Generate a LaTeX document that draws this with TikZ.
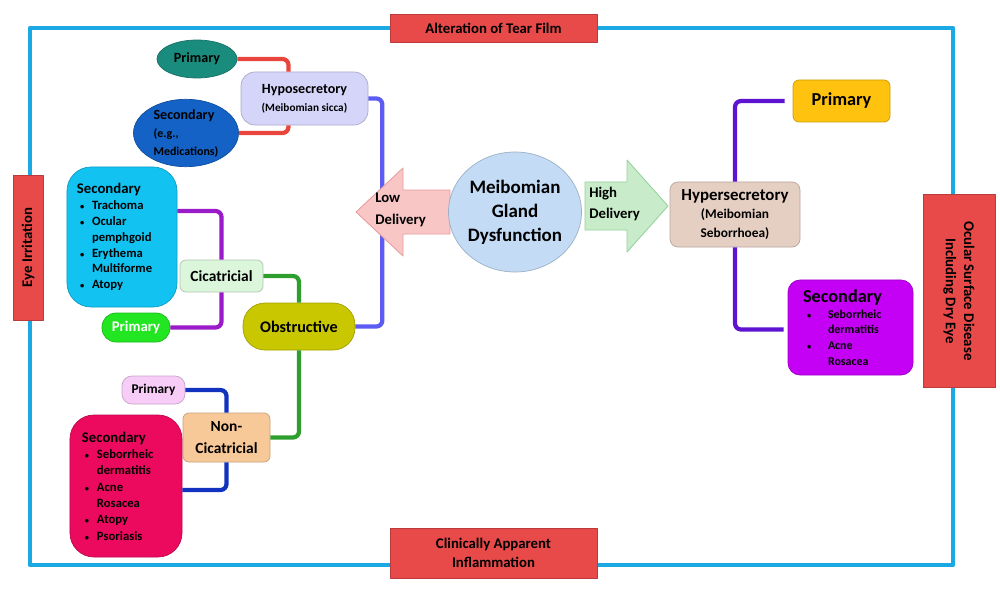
\documentclass[tikz,border=0pt]{standalone}
\usepackage{fontspec}
\setmainfont{Carlito}
\usetikzlibrary{shapes.geometric}
\definecolor{frameblue}{HTML}{1AA9E2}
\definecolor{labelred}{HTML}{E84A4A}
\definecolor{teal1}{HTML}{1A8C7E}
\definecolor{blue1}{HTML}{1462C6}
\definecolor{lav}{HTML}{D5D5FA}
\definecolor{cyan1}{HTML}{12C3F2}
\definecolor{mint}{HTML}{DCF6DC}
\definecolor{lime1}{HTML}{22E622}
\definecolor{olive1}{HTML}{C9C700}
\definecolor{pink1}{HTML}{F7CDF7}
\definecolor{peach}{HTML}{F8C998}
\definecolor{magenta1}{HTML}{EC0A5E}
\definecolor{skyc}{HTML}{C3DBF5}
\definecolor{lowpink}{HTML}{F9C6C6}
\definecolor{lowedge}{HTML}{E59C9C}
\definecolor{highgreen}{HTML}{C8EBCA}
\definecolor{highedge}{HTML}{93D29A}
\definecolor{tan1}{HTML}{E5CFC2}
\definecolor{gold1}{HTML}{FFC20E}
\definecolor{violet1}{HTML}{C400F5}
\definecolor{linered}{HTML}{E8453C}
\definecolor{lineblue}{HTML}{5C5CF4}
\definecolor{linepurple}{HTML}{9A1CC8}
\definecolor{linegreen}{HTML}{2E9E2E}
\definecolor{linenavy}{HTML}{1232C0}
\definecolor{lineviolet}{HTML}{5E12D2}
\begin{document}
\begin{tikzpicture}[x=0.25mm, y=-0.25mm, font=\bfseries, line join=round,
	bx/.style={draw=#1!80!black, fill=#1, line width=0.5pt, inner sep=0pt, align=center},
	el/.style={bx=#1, ellipse},
	lbl/.style={bx=labelred, font=\bfseries\fontsize{10.5}{13}\selectfont},
	con/.style={draw=#1, line width=3pt, rounded corners=1.5mm}]
	\def\dot{{\fontsize{6}{6}\selectfont\textbullet}}
	\def\bulA{\hspace*{0.75mm}\makebox[3mm][l]{\dot}}
	\def\bulB{\hspace*{3.75mm}}
	\def\bulC{\hspace*{1mm}\makebox[5.25mm][l]{\dot}}
	\def\bulD{\hspace*{6.25mm}}
	\def\sm#1#2{{\fontsize{#1}{#1}\selectfont #2}}
	\useasboundingbox (0,0) rectangle (1000,590);
	% khung
	\draw[frameblue, line width=3pt] (30,28) rectangle (953,565);
	\node[lbl, minimum width=51.75mm, minimum height=7mm] (tear) at (493.5,28) {Alteration of Tear Film};
	\node[lbl, minimum width=51.75mm, minimum height=12.5mm] (infl) at (493.5,553) {Clinically Apparent\\Inflammation};
	\node[lbl, rotate=90, minimum width=36.25mm, minimum height=7.5mm] (irrit) at (28,247.5) {Eye Irritation};
	\node[lbl, rotate=-90, minimum width=48.25mm, minimum height=18mm] (osd) at (959,291) {Ocular Surface Disease\\Including Dry Eye};
	% trai
	\node[el=teal1, minimum width=20mm, minimum height=9.5mm, font=\bfseries\fontsize{10}{12}\selectfont] (hypoprim) at (197,59) {Primary};
	\node[el=blue1, minimum width=26.25mm, minimum height=16.75mm, align=left, font=\bfseries\fontsize{10}{12.8}\selectfont] (hyposec) at (186,133) {Secondary\\\sm{8.5}{(e.g.,}\\\sm{8.5}{Medications)}};
	\node[bx=lav, rounded corners=3.5mm, minimum width=31.75mm, minimum height=13.25mm, font=\bfseries\fontsize{10}{12.8}\selectfont] (hypo) at (304.5,98.5) {Hyposecretory\\\sm{8}{(Meibomian sicca)}};
	\node[bx=cyan1, rounded corners=6mm, minimum width=27.5mm, minimum height=35mm, text width=22.5mm, align=left, font=\bfseries\fontsize{9}{11.3}\selectfont] (cicsec) at (122,237) {\fontsize{10.5}{12}\selectfont Secondary\\\fontsize{9}{11.3}\selectfont\bulA Trachoma\\\bulA Ocular\\\bulB pemphgoid\\\bulA Erythema\\\bulB Multiforme\\\bulA Atopy};
	\node[bx=mint, rounded corners=1.5mm, minimum width=20.75mm, minimum height=8mm, font=\bfseries\fontsize{11}{13}\selectfont] (cic) at (221.5,276) {Cicatricial};
	\node[bx=lime1, text=white, rounded corners=3.5mm, minimum width=17mm, minimum height=7.25mm, font=\bfseries\fontsize{10.5}{12}\selectfont] (cicprim) at (136,327.5) {Primary};
	\node[bx=olive1, rounded corners=5.5mm, minimum width=28mm, minimum height=11.75mm, font=\bfseries\fontsize{11.5}{13}\selectfont] (obst) at (299,326.5) {Obstructive};
	\node[bx=pink1, rounded corners=2.5mm, minimum width=15.75mm, minimum height=7mm, font=\bfseries\fontsize{9.5}{11}\selectfont] (ncprim) at (153.5,390) {Primary};
	\node[bx=peach, rounded corners=1.5mm, minimum width=21.75mm, minimum height=12.25mm, font=\bfseries\fontsize{11}{13}\selectfont] (noncic) at (226.5,437.5) {Non-\\[0.8mm]Cicatricial};
	\node[bx=magenta1, rounded corners=6mm, minimum width=28mm, minimum height=35.5mm, text width=22mm, align=left, font=\bfseries\fontsize{9}{11.6}\selectfont] (ncsec) at (126,486) {\fontsize{10.5}{12}\selectfont Secondary\\\fontsize{9}{11.6}\selectfont\bulA Seborrheic\\\bulB dermatitis\\\bulA Acne\\\bulB Rosacea\\\bulA Atopy\\\bulA Psoriasis};
	% phai
	\node[bx=tan1, rounded corners=2mm, minimum width=32.5mm, minimum height=16.25mm, font=\bfseries\fontsize{12}{13}\selectfont] (hyper) at (735,214.5) {Hypersecretory\\\sm{9.5}{(Meibomian}\\\sm{9.5}{Seborrhoea)}};
	\node[bx=gold1, rounded corners=1.5mm, minimum width=24.25mm, minimum height=10.5mm, font=\bfseries\fontsize{13}{15}\selectfont] (hyperprim) at (841.5,101) {Primary};
	\node[bx=violet1, rounded corners=3mm, minimum width=31.25mm, minimum height=23.75mm, text width=23.75mm, align=left, font=\bfseries\fontsize{8.5}{11.1}\selectfont] (hypersec) at (850.5,327.5) {\fontsize{13}{15}\selectfont Secondary\\\fontsize{8.5}{11.1}\selectfont\bulC Seborrheic\\\bulD dermatitis\\\bulC Acne\\\bulD Rosacea};
	% duong noi
	\draw[con=linered] (hypoprim.east) -| ([xshift=-4mm]hypo.north);
	\draw[con=linered] (hyposec.east) -| ([xshift=-4mm]hypo.south);
	\draw[con=lineblue] (hypo.east) -- ++(14,0) |- (obst.east);
	\draw[con=linepurple] ([yshift=6.5mm]cicsec.east) -| (cic.north);
	\draw[con=linepurple] (cic.south) |- (cicprim.east);
	\draw[con=linegreen] (cic.east) -| (obst.north);
	\draw[con=linegreen] (obst.south) |- (noncic.east);
	\draw[con=linenavy] (ncprim.east) -| (noncic.north);
	\draw[con=linenavy] (noncic.south) |- ([yshift=-1mm]ncsec.east);
	\draw[con=lineviolet] (hyper.north) |- ([xshift=-2mm]hyperprim.west);
	\draw[con=lineviolet] (hyper.south) |- ([xshift=-1mm,yshift=-0.5mm]hypersec.west);
	% giua
	\draw[draw=lowedge, fill=lowpink, line width=0.6pt] (356,212) -- (403,168) -- (403,190) -- (450,190) -- (450,234) -- (403,234) -- (403,256) -- cycle;
	\draw[draw=highedge, fill=highgreen, line width=0.6pt] (585,182) -- (627,182) -- (627,160) -- (668,206) -- (627,252) -- (627,230) -- (585,230) -- cycle;
	\node[anchor=west, align=left, inner sep=0pt, font=\bfseries\fontsize{10.5}{16}\selectfont] (lowtxt) at (375,210) {Low\\Delivery};
	\node[anchor=west, align=left, inner sep=0pt, font=\bfseries\fontsize{10.5}{15.6}\selectfont] (hightxt) at (589,204) {High\\Delivery};
	\node[el=skyc, minimum width=31.5mm, minimum height=30mm, font=\bfseries\fontsize{13.5}{17}\selectfont] (mgd) at (515,212) {Meibomian\\Gland\\Dysfunction};
\end{tikzpicture}
\end{document}
